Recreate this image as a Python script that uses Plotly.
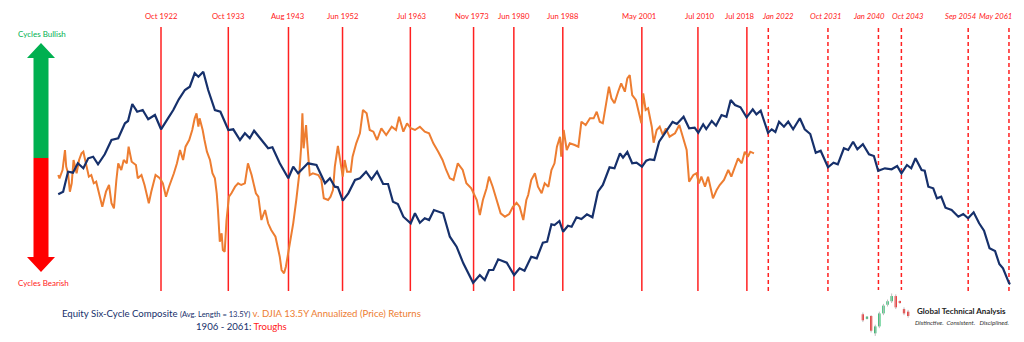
import plotly.graph_objects as go

# ---------------- data ----------------
composite_years = [1906.0, 1906.8, 1907.6, 1908.4, 1909.2, 1910.1, 1910.9, 1911.7, 1912.5, 1913.6,
    1914.7, 1915.8, 1916.9, 1917.4, 1918.1, 1918.9, 1919.8, 1920.7, 1921.8, 1922.8,
    1923.7, 1924.8, 1925.7, 1926.7, 1927.5, 1928.3, 1928.9, 1929.7, 1930.5, 1931.6,
    1932.5, 1933.8, 1934.6, 1935.7, 1936.5, 1937.3, 1938.0, 1938.9, 1940.3, 1941.0,
    1942.2, 1943.6, 1944.4, 1945.2, 1946.8, 1948.2, 1949.6, 1950.4, 1951.2, 1951.7,
    1952.5, 1953.4, 1954.5, 1955.3, 1956.3, 1957.2, 1958.1, 1959.1, 1959.9, 1960.7,
    1961.5, 1962.4, 1963.6, 1964.3, 1965.1, 1965.9, 1966.6, 1967.4, 1968.9, 1970.0,
    1971.1, 1972.2, 1973.8, 1974.9, 1975.7, 1976.4, 1977.1, 1977.9, 1979.3, 1980.5,
    1981.4, 1982.2, 1983.3, 1984.2, 1985.2, 1985.9, 1986.6, 1987.1, 1987.9, 1988.5,
    1989.3, 1989.9, 1990.7, 1991.5, 1992.4, 1993.3, 1993.7, 1994.2, 1995.0, 1996.1,
    1996.9, 1997.8, 1998.3, 1999.0, 1999.8, 2000.5, 2001.4, 2002.1, 2002.7, 2003.4,
    2004.2, 2005.1, 2006.4, 2007.1, 2008.2, 2009.1, 2010.0, 2010.6, 2011.4, 2011.9,
    2012.8, 2013.5, 2014.4, 2015.2, 2015.9, 2016.6, 2017.5, 2018.5, 2019.5, 2020.1,
    2020.8, 2021.3, 2022.0, 2022.6, 2023.2, 2023.8, 2024.6, 2025.3, 2026.1, 2027.2,
    2028.0, 2028.9, 2029.8, 2030.6, 2031.3, 2031.8, 2032.7, 2033.4, 2034.4, 2035.1,
    2035.9, 2036.6, 2037.5, 2038.5, 2039.3, 2040.0, 2041.1, 2042.2, 2043.1, 2043.8,
    2044.7, 2045.4, 2046.1, 2047.1, 2047.6, 2048.2, 2049.0, 2049.6, 2050.3, 2051.0,
    2052.0, 2053.1, 2053.9, 2054.7, 2055.6, 2056.5, 2057.3, 2058.2, 2059.1, 2059.8,
    2060.4, 2061.4, 2061.6]
composite_values = [105.7, 108.3, 128.3, 127.3, 136.7, 131.7, 141.7, 143.3, 135.7, 145.7,
    160.0, 161.7, 176.7, 179.0, 196.0, 188.3, 190.0, 180.7, 185.0, 170.7,
    179.3, 190.0, 200.7, 210.0, 213.3, 226.7, 223.3, 228.3, 210.0, 190.0,
    188.3, 170.0, 170.7, 160.0, 166.7, 161.7, 169.3, 162.3, 151.7, 152.7,
    136.7, 121.7, 133.3, 126.7, 136.7, 135.0, 116.7, 121.7, 113.3, 112.7,
    99.3, 106.7, 120.0, 121.7, 128.3, 120.7, 128.3, 116.0, 116.0, 98.3,
    96.0, 83.3, 76.7, 86.7, 77.3, 81.7, 80.0, 90.0, 86.7, 63.3,
    53.3, 36.7, 17.3, 25.0, 20.0, 30.0, 30.0, 40.7, 37.3, 25.0,
    31.7, 29.3, 43.3, 41.7, 57.3, 58.3, 75.7, 75.0, 79.0, 68.3,
    74.3, 73.3, 82.7, 81.0, 85.7, 82.7, 93.3, 108.3, 115.0, 132.7,
    131.7, 146.7, 142.3, 148.0, 136.7, 137.3, 133.3, 139.3, 140.7, 140.0,
    158.3, 166.0, 178.0, 176.0, 183.3, 171.7, 172.3, 167.3, 175.7, 171.0,
    179.0, 174.3, 185.0, 183.3, 200.0, 195.0, 192.7, 182.7, 190.7, 185.7,
    189.3, 180.0, 167.3, 170.7, 168.0, 178.3, 173.3, 178.3, 170.7, 181.7,
    170.7, 166.0, 147.3, 149.3, 140.0, 132.7, 137.3, 135.7, 151.7, 150.0,
    158.3, 150.7, 155.7, 145.7, 144.0, 129.3, 131.7, 130.7, 134.0, 126.7,
    135.0, 131.7, 141.7, 130.0, 129.3, 113.3, 111.7, 101.7, 103.3, 92.3,
    90.0, 83.3, 86.0, 81.7, 87.7, 76.7, 69.3, 51.7, 49.0, 36.0,
    31.7, 16.7, 16.0]

djia_years = [1906.0, 1906.2, 1906.7, 1907.1, 1907.3, 1907.6, 1907.9, 1908.2, 1908.5, 1909.0,
    1909.4, 1909.8, 1910.1, 1910.5, 1910.7, 1911.0, 1911.4, 1911.8, 1912.2, 1912.7,
    1913.2, 1913.8, 1914.3, 1914.7, 1915.1, 1915.5, 1915.8, 1916.3, 1916.7, 1917.2,
    1917.5, 1918.0, 1918.7, 1919.0, 1919.6, 1920.1, 1920.8, 1921.2, 1921.9, 1922.6,
    1923.1, 1923.6, 1924.1, 1924.9, 1925.4, 1925.9, 1926.4, 1926.8, 1927.4, 1927.9,
    1928.3, 1928.6, 1928.9, 1929.1, 1929.6, 1929.9, 1930.3, 1930.8, 1931.2, 1931.6,
    1931.9, 1932.1, 1932.4, 1932.7, 1932.9, 1933.2, 1933.5, 1933.9, 1934.3, 1934.9,
    1935.4, 1935.9, 1936.5, 1937.0, 1937.6, 1938.3, 1938.7, 1939.2, 1939.8, 1940.3,
    1940.8, 1941.5, 1942.2, 1942.5, 1942.9, 1943.2, 1943.6, 1943.9, 1944.4, 1944.9,
    1945.4, 1945.7, 1945.9, 1946.1, 1946.5, 1946.7, 1947.1, 1947.6, 1948.5, 1949.0,
    1949.4, 1950.1, 1950.5, 1950.9, 1951.2, 1951.7, 1952.1, 1952.5, 1952.8, 1953.2,
    1953.8, 1954.1, 1954.7, 1955.3, 1955.8, 1956.4, 1956.9, 1957.5, 1958.1, 1958.8,
    1959.6, 1960.5, 1961.2, 1961.7, 1962.4, 1963.0, 1963.6, 1964.3, 1965.1, 1965.9,
    1966.6, 1967.3, 1968.1, 1968.8, 1969.4, 1970.0, 1970.6, 1971.3, 1972.1, 1972.7,
    1973.5, 1973.9, 1974.4, 1974.9, 1975.4, 1976.0, 1976.4, 1977.0, 1977.6, 1978.3,
    1979.0, 1979.7, 1980.3, 1980.9, 1981.4, 1982.0, 1982.5, 1982.8, 1983.3, 1983.9,
    1984.4, 1985.0, 1985.5, 1986.1, 1986.6, 1987.1, 1987.5, 1988.0, 1988.2, 1988.6,
    1989.1, 1989.6, 1990.4, 1991.0, 1991.5, 1992.2, 1992.9, 1993.5, 1994.0, 1994.5,
    1995.0, 1995.5, 1996.0, 1996.4, 1996.9, 1997.5, 1998.0, 1998.6, 1999.0, 1999.4,
    1999.8, 2000.4, 2000.9, 2001.3, 2001.6, 2002.0, 2002.4, 2003.0, 2003.3, 2003.8,
    2004.3, 2004.8, 2005.3, 2005.9, 2006.8, 2007.5, 2007.9, 2008.2, 2008.7, 2009.1,
    2009.8, 2010.3, 2010.7, 2011.1, 2011.7, 2012.2, 2012.8, 2013.0, 2013.6, 2014.1,
    2014.8, 2015.5, 2016.0, 2016.6, 2017.1, 2017.7, 2018.2, 2018.7, 2019.1, 2019.7]
djia_values = [125.0, 121.7, 130.0, 150.0, 133.3, 126.7, 108.3, 116.7, 140.0, 126.7,
    140.0, 146.7, 148.3, 136.7, 131.7, 123.3, 125.0, 116.7, 118.3, 106.7,
    93.3, 108.3, 115.0, 96.7, 91.7, 120.0, 136.7, 130.0, 140.0, 136.7,
    153.3, 138.3, 135.0, 121.7, 125.0, 115.0, 96.7, 108.3, 125.0, 121.7,
    116.7, 103.3, 113.3, 126.7, 136.7, 150.0, 140.0, 153.3, 160.0, 170.0,
    181.7, 186.7, 173.3, 181.7, 170.0, 160.0, 148.3, 140.0, 126.7, 121.7,
    106.7, 90.0, 58.3, 66.7, 50.0, 48.3, 80.0, 103.3, 106.7, 113.3,
    116.7, 115.0, 116.7, 136.7, 125.0, 106.7, 103.3, 80.0, 90.0, 76.7,
    70.0, 63.3, 43.3, 30.0, 26.7, 33.3, 48.3, 55.0, 76.7, 100.0,
    126.7, 153.3, 186.7, 151.7, 175.0, 156.7, 125.0, 126.7, 125.0, 120.0,
    101.7, 100.0, 103.3, 110.0, 133.3, 154.0, 140.0, 123.3, 140.0, 128.3,
    128.3, 143.3, 156.7, 166.7, 190.0, 186.7, 170.0, 168.3, 160.0, 171.7,
    165.0, 173.3, 170.0, 183.3, 168.3, 176.7, 171.7, 170.0, 173.3, 168.3,
    166.7, 156.7, 148.3, 140.0, 130.0, 121.7, 120.0, 136.7, 130.0, 116.7,
    111.7, 106.7, 100.0, 85.0, 100.0, 111.7, 123.3, 113.3, 100.0, 86.7,
    83.3, 86.0, 93.3, 97.3, 93.3, 80.0, 100.0, 105.0, 120.0, 126.7,
    113.3, 106.7, 116.7, 113.3, 130.0, 136.7, 153.3, 163.3, 143.3, 170.0,
    150.0, 156.7, 155.0, 153.3, 178.3, 175.0, 181.7, 181.7, 188.3, 178.3,
    176.7, 196.7, 213.3, 201.7, 196.7, 208.3, 216.7, 208.3, 221.7, 225.0,
    205.0, 200.0, 188.3, 176.7, 206.7, 190.0, 191.7, 173.3, 157.3, 170.0,
    173.3, 165.0, 171.7, 163.3, 166.7, 175.0, 166.7, 160.0, 150.0, 118.3,
    125.0, 126.7, 116.7, 123.3, 113.3, 123.3, 108.3, 101.7, 110.0, 115.0,
    120.0, 130.0, 123.3, 133.3, 141.7, 136.7, 148.3, 143.3, 148.3, 146.7]

trough_labels = ["Oct 1922", "Oct 1933", "Aug 1943", "Jun 1952", "Jul 1963", "Nov 1973",
                 "Jun 1980", "Jun 1988", "May 2001", "Jul 2010", "Jul 2018"]
projected_labels = ["Jan 2022", "Oct 2031", "Jan 2040", "Oct 2043", "Sep 2054", "May 2061"]

# small candlestick logo
logo_x = [1, 2, 3, 4, 5, 6, 7, 8, 9, 10, 11, 12]
logo_open = [32, 26.7, 30, 10, 18, 33, 43, 47, 53, 47, 38, 35]
logo_close = [25, 29.3, 13, 18, 33, 42, 47, 53, 40, 45, 33, 30]
logo_high = [34, 30, 31, 20, 35, 44, 49, 56, 55, 48, 40, 37]
logo_low = [23, 26, 11, 7, 16, 31, 41, 45, 38, 44, 31, 28]

# ---------------- layout settings (pixel offsets of labels from their lines) ----------------
trough_label_shift = [0, 0, 0, 0, 2, -2, 0, 0, -3, 2, -7]
projected_label_shift = [10, -2, -9, 7, -7, -13]

MONTHS = ["Jan", "Feb", "Mar", "Apr", "May", "Jun", "Jul", "Aug", "Sep", "Oct", "Nov", "Dec"]


def to_year(label):
    m, y = label.split()
    return int(y) + (MONTHS.index(m) + 0.5) / 12.0


W, H = 1024, 342


def px(x):
    return x / W


def py(y):
    return 1 - y / H


NAVY = "#16306B"
ORANGE = "#ED7D31"
RED = "#FF2020"
GREEN = "#00B050"
FONT = "Lato"

fig = go.Figure()

fig.add_trace(go.Scatter(x=djia_years, y=djia_values, mode="lines",
                         line=dict(color=ORANGE, width=2), hoverinfo="skip"))
fig.add_trace(go.Scatter(x=composite_years, y=composite_values, mode="lines",
                         line=dict(color=NAVY, width=2.2), hoverinfo="skip"))

shapes = []
annotations = []


def note(x, y, text, size, color, xref="paper", xshift=0):
    annotations.append(dict(x=x, y=y, xref=xref, yref="paper", text=text, showarrow=False,
                            xanchor="center", yanchor="middle", xshift=xshift,
                            font=dict(family=FONT, size=size, color=color)))


for lab, sh in zip(trough_labels, trough_label_shift):
    xv = to_year(lab)
    shapes.append(dict(type="line", xref="x", yref="paper", x0=xv, x1=xv,
                       y0=py(291), y1=py(27), layer="below",
                       line=dict(color=RED, width=1.5)))
    note(xv, py(16), lab, 7.7, RED, xref="x", xshift=sh)
for lab, sh in zip(projected_labels, projected_label_shift):
    xv = to_year(lab)
    shapes.append(dict(type="line", xref="x", yref="paper", x0=xv, x1=xv,
                       y0=py(291), y1=py(27), layer="below",
                       line=dict(color=RED, width=1.5, dash="4px,3px")))
    note(xv, py(16), "<i>" + lab + "</i>", 7.7, RED, xref="x", xshift=sh)

# bullish / bearish arrows
up_path = "M {} {} L {} {} L {} {} L {} {} L {} {} L {} {} L {} {} Z".format(
    px(33.5), py(158), px(33.5), py(58), px(27), py(58), px(41), py(43),
    px(55), py(58), px(48.5), py(58), px(48.5), py(158))
down_path = "M {} {} L {} {} L {} {} L {} {} L {} {} L {} {} L {} {} Z".format(
    px(33.5), py(158), px(33.5), py(257), px(27), py(257), px(41), py(272),
    px(55), py(257), px(48.5), py(257), px(48.5), py(158))
shapes.append(dict(type="path", xref="paper", yref="paper", path=up_path,
                   fillcolor=GREEN, line=dict(width=0)))
shapes.append(dict(type="path", xref="paper", yref="paper", path=down_path,
                   fillcolor="#FF0000", line=dict(width=0)))

note(px(42), py(34), "Cycles Bullish", 8, GREEN)
note(px(43), py(283), "Cycles Bearish", 8, RED)

note(px(241), py(313),
     ("Equity Six-Cycle Composite <span style='font-size:7.5px'>(Avg. Length = 13.5Y)</span> "
      "<span style='color:" + ORANGE + "'>v. DJIA 13.5Y Annualized (Price) Returns</span>"),
     9.6, NAVY)
note(px(241), py(326), "1906 - 2061: <span style='color:#FF2020'>Troughs</span>", 9.6, NAVY)

# logo text
note(px(961), py(311), "<b>Global Technical Analysis</b>", 8, "#222222")
note(px(962), py(322), "<i>Distinctive.  Consistent.   Disciplined.</i>", 6.2, "#333333")

# logo candles: wicks + bodies
wick_x, wick_y = [], []
for xv, hi, lo in zip(logo_x, logo_high, logo_low):
    wick_x += [xv, xv, None]
    wick_y += [lo, hi, None]
fig.add_trace(go.Scatter(x=wick_x, y=wick_y, mode="lines", xaxis="x2", yaxis="y2",
                         line=dict(color="#BDBDBD", width=1), hoverinfo="skip"))
body_base = [min(o, c) for o, c in zip(logo_open, logo_close)]
body_len = [abs(c - o) for o, c in zip(logo_open, logo_close)]
body_col = [GREEN if c > o else "#FF0000" for o, c in zip(logo_open, logo_close)]
fig.add_trace(go.Bar(x=logo_x, y=body_len, base=body_base, xaxis="x2", yaxis="y2",
                     marker=dict(color=body_col, line=dict(width=0)), width=0.55,
                     hoverinfo="skip"))

# x range so that Oct 1922 sits at 161px and May 2061 at 1009px
x_scale = 0.16343  # years per pixel
x0 = to_year("Oct 1922") - 161 * x_scale
x1 = x0 + W * x_scale

fig.update_layout(
    width=W, height=H, margin=dict(l=0, r=0, t=0, b=0),
    paper_bgcolor="white", plot_bgcolor="white", showlegend=False,
    xaxis=dict(range=[x0, x1], domain=[0, 1], visible=False, fixedrange=True),
    yaxis=dict(range=[300 - H, 300], domain=[0, 1], visible=False, fixedrange=True),
    xaxis2=dict(range=[0.3, 12.7], domain=[px(860), px(911)], visible=False, anchor="y2"),
    yaxis2=dict(range=[0, 60], domain=[0, py(290)], visible=False, anchor="x2"),
    shapes=shapes, annotations=annotations,
)

fig.write_html("out.html")
